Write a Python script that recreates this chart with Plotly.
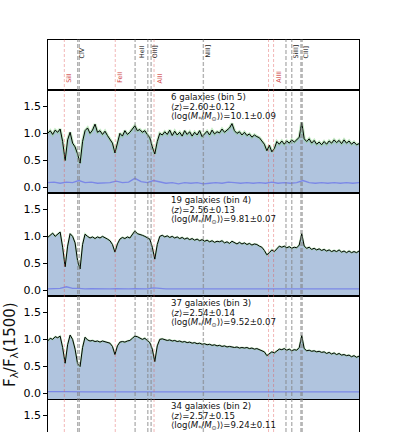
import plotly.graph_objects as go

# rest-frame wavelength grid of the stacked spectra (Angstrom)
wave = list(range(1500, 2001, 4))
wave_err = list(range(1500, 2001, 10))

# normalised stacked flux, one list per mass bin
flux_bin5 = [
    1.00, 1.05, 0.98, 1.06, 1.02, 1.08, 0.85, 0.50, 0.88, 1.02,
    0.82, 0.75, 0.62, 0.45, 0.85, 1.05, 1.10, 1.00, 1.06, 1.17,
    1.02, 1.05, 0.98, 1.04, 0.96, 0.90, 0.82, 0.64, 0.85, 1.00,
    0.95, 1.05, 0.98, 1.02, 1.08, 1.14, 1.05, 1.07, 1.02, 1.05,
    0.98, 0.92, 0.75, 0.62, 0.85, 1.00, 0.97, 1.03, 0.98, 1.06,
    0.96, 1.04, 0.97, 1.02, 0.95, 1.05, 0.98, 1.03, 0.95, 1.02,
    0.97, 1.05, 0.94, 1.00, 1.04, 0.97, 1.06, 0.99, 1.03, 1.01,
    1.08, 1.02, 1.06, 1.10, 1.18, 1.05, 1.00, 1.03, 0.97, 1.02,
    0.96, 0.99, 0.93, 0.97, 0.94, 0.92, 0.86, 0.80, 0.68, 0.78,
    0.66, 0.72, 0.85, 0.80, 0.86, 0.80, 0.86, 0.82, 0.88, 0.84,
    0.88, 0.93, 1.20, 0.90, 0.85, 0.90, 0.82, 0.87, 0.80, 0.84,
    0.79, 0.85, 0.80, 0.86, 0.82, 0.88, 0.83, 0.87, 0.81, 0.88,
    0.82, 0.86, 0.80, 0.84, 0.79, 0.81,
]
flux_bin4 = [
    0.98, 1.02, 1.06, 1.00, 1.05, 1.08, 0.80, 0.44, 0.82, 1.05,
    1.00, 0.88, 0.55, 0.40, 0.85, 1.04, 1.00, 0.97, 0.99, 0.96,
    0.99, 0.97, 1.00, 0.98, 0.95, 0.92, 0.85, 0.71, 0.86, 0.95,
    0.98, 0.96, 0.99, 0.97, 1.03, 1.10, 1.05, 1.04, 1.02, 1.00,
    0.97, 0.95, 0.80, 0.58, 0.85, 1.00, 1.02, 0.99, 1.01, 0.98,
    1.00, 0.97, 0.99, 0.96, 0.98, 0.95, 0.97, 0.94, 0.96, 0.93,
    0.95, 0.92, 0.94, 0.91, 0.93, 0.90, 0.92, 0.89, 0.91, 0.90,
    0.92, 0.88, 0.90, 0.87, 0.91, 0.88, 0.86, 0.89, 0.86, 0.88,
    0.85, 0.87, 0.84, 0.86, 0.85, 0.82, 0.80, 0.74, 0.66, 0.70,
    0.75, 0.72, 0.78, 0.82, 0.80, 0.82, 0.79, 0.81, 0.78, 0.80,
    0.79, 0.84, 1.05, 0.82, 0.78, 0.80, 0.76, 0.78, 0.75, 0.77,
    0.74, 0.76, 0.73, 0.75, 0.72, 0.74, 0.72, 0.75, 0.71, 0.73,
    0.70, 0.73, 0.70, 0.72, 0.70, 0.73,
]
flux_bin3 = [
    0.97, 1.02, 1.00, 1.05, 1.03, 1.06, 0.85, 0.56, 0.90, 1.08,
    1.00, 0.82, 0.55, 0.50, 0.85, 1.04, 0.99, 0.97, 0.98, 0.96,
    0.97, 0.95, 0.97, 0.96, 0.95, 0.93, 0.87, 0.72, 0.88, 0.95,
    0.96, 0.95, 0.97, 0.98, 1.02, 1.06, 1.05, 1.03, 1.00, 1.02,
    0.98, 0.94, 0.82, 0.59, 0.88, 1.00, 1.01, 0.99, 0.98, 0.99,
    0.97, 0.98, 0.96, 0.97, 0.95, 0.96, 0.94, 0.95, 0.93, 0.94,
    0.92, 0.93, 0.91, 0.92, 0.90, 0.91, 0.89, 0.90, 0.88, 0.89,
    0.87, 0.88, 0.86, 0.87, 0.86, 0.85, 0.86, 0.84, 0.85, 0.84,
    0.85, 0.83, 0.84, 0.82, 0.83, 0.81, 0.80, 0.77, 0.70, 0.74,
    0.77, 0.75, 0.79, 0.82, 0.81, 0.83, 0.80, 0.82, 0.79, 0.81,
    0.80, 0.85, 1.07, 0.83, 0.79, 0.80, 0.78, 0.79, 0.77, 0.78,
    0.76, 0.77, 0.74, 0.76, 0.73, 0.75, 0.72, 0.74, 0.71, 0.72,
    0.70, 0.71, 0.68, 0.70, 0.67, 0.69,
]

# noise spectra (coarser grid)
err_bin5 = [
    0.09, 0.10, 0.08, 0.10, 0.09, 0.13, 0.09, 0.10, 0.08, 0.09,
    0.09, 0.12, 0.09, 0.10, 0.17, 0.11, 0.09, 0.13, 0.10, 0.08,
    0.09, 0.07, 0.09, 0.08, 0.09, 0.07, 0.08, 0.09, 0.08, 0.10,
    0.09, 0.08, 0.09, 0.08, 0.09, 0.08, 0.10, 0.08, 0.09, 0.08,
    0.09, 0.13, 0.09, 0.08, 0.09, 0.08, 0.09, 0.08, 0.09, 0.08,
    0.09,
]
err_bin4 = [
    0.03, 0.035, 0.04, 0.07, 0.04, 0.04, 0.03, 0.035, 0.03, 0.03,
    0.03, 0.035, 0.03, 0.03, 0.035, 0.03, 0.03, 0.05, 0.035, 0.03,
    0.03, 0.03, 0.035, 0.03, 0.03, 0.03, 0.035, 0.03, 0.03, 0.03,
    0.03, 0.035, 0.03, 0.03, 0.03, 0.03, 0.035, 0.03, 0.03, 0.03,
    0.03, 0.035, 0.03, 0.03, 0.03, 0.03, 0.03, 0.035, 0.03, 0.03,
    0.03,
]
err_bin3 = [
    0.035, 0.03, 0.035, 0.035, 0.03, 0.035, 0.03, 0.03, 0.03, 0.03,
    0.03, 0.03, 0.03, 0.03, 0.03, 0.03, 0.03, 0.035, 0.03, 0.03,
    0.03, 0.03, 0.03, 0.03, 0.03, 0.03, 0.03, 0.03, 0.03, 0.03,
    0.03, 0.03, 0.03, 0.03, 0.03, 0.03, 0.03, 0.03, 0.03, 0.03,
    0.03, 0.03, 0.03, 0.03, 0.03, 0.03, 0.03, 0.03, 0.03, 0.03,
    0.03,
]

bin_labels = ["6 galaxies (bin 5)", "19 galaxies (bin 4)", "37 galaxies (bin 3)", "34 galaxies (bin 2)"]
z_labels = ["2.60±0.12", "2.56±0.13", "2.54±0.14", "2.57±0.15"]
mass_labels = ["10.1±0.09", "9.81±0.07", "9.52±0.07", "9.24±0.11"]

# line identifications
em_names = ["CIV", "HeII", "OIII]", "NIII]", "SiIII]", "CIII]"]
em_label_pos = [1555, 1650, 1672, 1756, 1898, 1914]
abs_names = ["SiII", "FeII", "AlII", "AlIII"]
abs_label_pos = [1534, 1615, 1681, 1871]
gray_lines = [1548.2, 1550.8, 1640.4, 1660.8, 1666.1, 1750.0, 1882.7, 1892.0, 1906.7, 1908.7]
red_lines = [1526.7, 1608.5, 1670.8, 1854.7, 1862.8]

H = 432.0
FONT = "DejaVu Sans"


def py(px):
    return 1 - px / H


xdom = [47.7 / 395, 359 / 395]
# panel pixel extents: label strip then four spectra panels
tops = [90, 193, 296, 399]
bots = [193, 296, 399, 432]

fig = go.Figure()

spectra = [(flux_bin5, err_bin5, 3.0), (flux_bin4, err_bin4, 2.0), (flux_bin3, err_bin3, 2.0)]
for i, (flux, err, halo) in enumerate(spectra):
    ax = str(i + 2)
    xa, ya = "x" + ax, "y" + ax
    fig.add_trace(go.Scatter(x=[1500, 2000], y=[-1, -1], xaxis=xa, yaxis=ya, mode="lines",
                             line=dict(width=0), showlegend=False, hoverinfo="skip"))
    fig.add_trace(go.Scatter(x=wave, y=flux, xaxis=xa, yaxis=ya, mode="lines", fill="tonexty",
                             fillcolor="rgb(176,196,222)",
                             line=dict(color="rgba(140,215,140,0.5)", width=halo), showlegend=False))
    fig.add_trace(go.Scatter(x=wave, y=flux, xaxis=xa, yaxis=ya, mode="lines",
                             line=dict(color="black", width=1), showlegend=False))
    fig.add_trace(go.Scatter(x=wave_err, y=err, xaxis=xa, yaxis=ya, mode="lines",
                             line=dict(color="rgba(95,105,235,0.65)", width=1.3), showlegend=False))

axis_common = dict(showgrid=False, zeroline=False, showline=True, mirror=True,
                   linecolor="black", linewidth=1)
layout = dict(
    width=395, height=432,
    margin=dict(l=0, r=0, t=0, b=0),
    paper_bgcolor="white", plot_bgcolor="white",
    font=dict(family=FONT, color="black"),
    showlegend=False,
    xaxis=dict(domain=xdom, range=[1500, 2000], showticklabels=False, ticks="", anchor="y", **axis_common),
    yaxis=dict(domain=[py(90), py(39.5)], range=[0, 1], showticklabels=False, ticks="", anchor="x", **axis_common),
)
for i in range(4):
    ax = str(i + 2)
    yr = [-0.1, 1.8] if i < 3 else [1.8 - 33 / 54.2, 1.8]
    xa = dict(domain=xdom, range=[1500, 2000], showticklabels=False, ticks="", anchor="y" + ax,
              matches="x", **axis_common)
    if i == 3:
        xa["showline"] = False
    layout["xaxis" + ax] = xa
    layout["yaxis" + ax] = dict(domain=[py(bots[i]), py(tops[i])], range=yr, anchor="x" + ax,
                                tickvals=[0, 0.5, 1.0, 1.5], ticktext=["0.0", "0.5", "1.0", "1.5"],
                                ticks="outside", ticklen=3.5, tickwidth=1, tickcolor="black",
                                tickfont=dict(size=11, family=FONT), **axis_common)
fig.update_layout(**layout)

# vertical line markers through every panel
for w in gray_lines:
    fig.add_shape(type="line", xref="x", yref="paper", x0=w, x1=w, y0=0, y1=py(39.5),
                  line=dict(color="rgba(128,128,128,0.6)", width=1.4, dash="4px,2px"))
for w in red_lines:
    fig.add_shape(type="line", xref="x", yref="paper", x0=w, x1=w, y0=0, y1=py(39.5),
                  line=dict(color="rgba(225,90,90,0.55)", width=0.8, dash="3px,2px"))

# line names in the top strip
for name, w in zip(em_names, em_label_pos):
    fig.add_annotation(text=name, x=w, xref="x", y=py(59), yref="paper", textangle=-90,
                       xanchor="center", yanchor="bottom", showarrow=False, borderpad=0,
                       font=dict(size=6.3, color="#222222"))
for name, w in zip(abs_names, abs_label_pos):
    fig.add_annotation(text=name, x=w, xref="x", y=py(84), yref="paper", textangle=-90,
                       xanchor="center", yanchor="bottom", showarrow=False, borderpad=0,
                       font=dict(size=6.3, color="rgb(205,60,60)"))

# bin descriptions: three lines per panel, 10 px apart as in the original
line_y = [1.678, 1.494, 1.318]
for i in range(4):
    ax = str(i + 2)
    lines = [bin_labels[i],
             "⟨<i>z</i>⟩=" + z_labels[i],
             "⟨log(<i>M</i><sub>*</sub>/<i>M</i><sub>⊙</sub>)⟩=" + mass_labels[i]]
    for j, txt in enumerate(lines):
        fig.add_annotation(text=txt, x=1698, xref="x" + ax, y=line_y[j], yref="y" + ax,
                           xanchor="left", yanchor="middle", showarrow=False,
                           borderpad=0, borderwidth=0,
                           font=dict(size=8.6, color="#111111"))

fig.add_annotation(text="F<sub>λ</sub>/F<sub>λ</sub>(1500)", x=10 / 395, xref="paper", y=py(345), yref="paper",
                   textangle=-90, xanchor="center", yanchor="middle", showarrow=False,
                   font=dict(size=15, color="#111111"))

# drop the browser's default body margin so the figure sits at the window origin
fig.write_html("out.html", config={"displayModeBar": False},
               post_script="document.body.style.margin='0px';")
